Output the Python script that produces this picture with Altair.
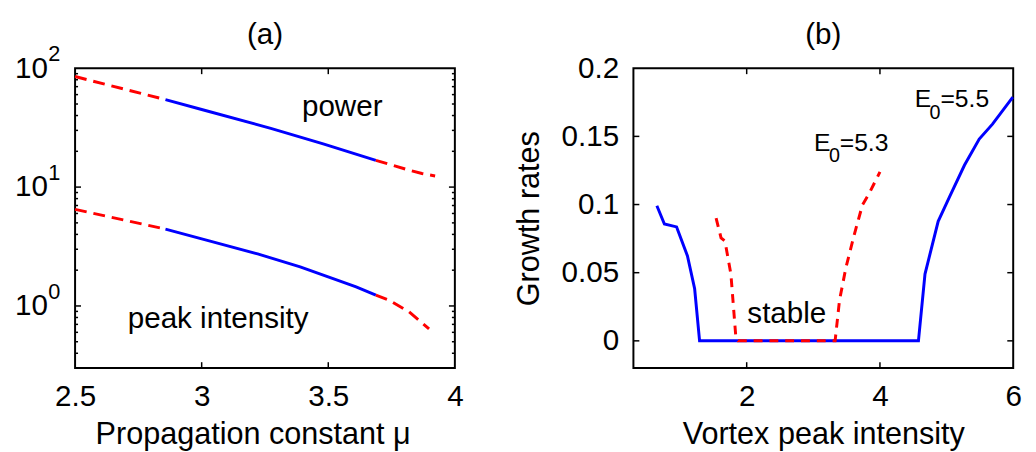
import altair as alt
import pandas as pd

FONT = "Liberation Sans"
BLUE = "#0000ff"
RED = "#ff0000"
W, H = 385, 304

# ---------------- panel (a) data ----------------
pw_red1_mu = [2.5, 2.857]
pw_red1_val = [85.1, 54.4]
pw_blue_mu = [2.857, 3.0, 3.273, 3.48, 3.688]
pw_blue_val = [54.4, 45.0, 31.2, 23.1, 16.8]
pw_red2_mu = [3.688, 3.818, 3.87, 3.922]
pw_red2_val = [16.8, 13.9, 13.0, 12.4]

pk_red1_mu = [2.5, 2.857]
pk_red1_val = [6.5, 4.43]
pk_blue_mu = [2.857, 3.026, 3.221, 3.389, 3.519, 3.61, 3.688]
pk_blue_val = [4.43, 3.55, 2.74, 2.13, 1.70, 1.45, 1.235]
pk_red2_mu = [3.688, 3.74, 3.818, 3.898]
pk_red2_val = [1.235, 1.12, 0.896, 0.64]

a_title = ["(a)"]
a_x_ticks = [2.5, 3, 3.5, 4]
a_x_inner = [3, 3.5]
a_y_ticks = [1, 10, 100]
a_y_exp = ["0", "1", "2"]
a_y_major_inner = [1, 10]
a_y_minor_inner = [0.3, 0.4, 0.5, 0.6, 0.7, 0.8, 0.9,
                   2, 3, 4, 5, 6, 7, 8, 9,
                   20, 30, 40, 50, 60, 70, 80, 90]
a_labels = ["power", "peak intensity"]
a_label_x = [3.396, 2.708]
a_label_y = [39.8, 0.65]

# ---------------- panel (b) data ----------------
b_blue_x = [0.652, 0.765, 0.948, 1.111, 1.219, 1.293, 4.578, 4.676, 4.874,
            5.046, 5.268, 5.49, 5.689, 5.994]
b_blue_y = [0.0991, 0.0857, 0.0836, 0.0623, 0.0382, 0.0, 0.0, 0.049, 0.0877,
            0.1058, 0.1288, 0.148, 0.159, 0.1788]
b_red_x = [1.541, 1.615, 1.674, 1.763, 1.837, 1.87, 3.327, 3.393, 3.49,
           3.615, 3.738, 3.837, 4.0]
b_red_y = [0.090, 0.0756, 0.0732, 0.049, 0.003, 0.0, 0.0, 0.0297, 0.0539,
           0.078, 0.0998, 0.108, 0.1239]

b_title = ["(b)"]
b_x_ticks = [2, 4, 6]
b_x_inner = [2, 4]
b_y_ticks = [0, 0.05, 0.1, 0.15, 0.2]
b_y_inner = [0, 0.05, 0.1, 0.15]
b_e_labels = ["=5.5", "=5.3"]
b_e_x = [4.523, 3.012]
b_e_y = [0.1715, 0.1396]
b_stable_x = [2.01]
b_stable_y = [0.0128]


def seg_df(parts):
    rows = []
    for sid, xs, ys in parts:
        for x, y in zip(xs, ys):
            rows.append({"x": x, "y": y, "seg": sid})
    return pd.DataFrame(rows)


XA = alt.X("x:Q", scale=alt.Scale(domain=[2.5, 4], nice=False, zero=False),
           axis=alt.Axis(values=a_x_ticks, format="~g", title="Propagation constant μ",
                         labelPadding=14, titlePadding=8, titleX=180))
YA = alt.Y("y:Q", scale=alt.Scale(type="log", domain=[0.3, 100], nice=False),
           axis=alt.Axis(values=a_y_ticks, labelExpr="'10'", title=None, labelPadding=28))

XB = alt.X("x:Q", scale=alt.Scale(domain=[0.3, 6], nice=False, zero=False),
           axis=alt.Axis(values=b_x_ticks, format="~g", title="Vortex peak intensity",
                         labelPadding=14, titlePadding=8))
YB = alt.Y("y:Q", scale=alt.Scale(domain=[-0.02, 0.2], nice=False, zero=False),
           axis=alt.Axis(values=b_y_ticks, format="~g", title="Growth rates",
                         labelPadding=15, titlePadding=16))


def inner_ticks(vals, axis, length, XE, YE):
    df = pd.DataFrame({axis: vals})
    base = alt.Chart(df).mark_rule(color="black", strokeWidth=1.5)
    if axis == "y":
        left = base.encode(y=YE, x=alt.value(0), x2=alt.value(length))
        right = base.encode(y=YE, x=alt.value(W - length), x2=alt.value(W))
    else:
        left = base.encode(x=XE, y=alt.value(H - length), y2=alt.value(H))
        right = base.encode(x=XE, y=alt.value(0), y2=alt.value(length))
    return [left, right]


def panel_title(t):
    return alt.Chart(pd.DataFrame({"t": t})).mark_text(
        align="center", baseline="alphabetic", fontSize=30, font=FONT, color="black"
    ).encode(x=alt.value(W / 2), y=alt.value(-25), text="t:N")


# ---------------- panel (a) ----------------
blue_a = seg_df([("pw", pw_blue_mu, pw_blue_val), ("pk", pk_blue_mu, pk_blue_val)])
red_a = seg_df([("pw1", pw_red1_mu, pw_red1_val), ("pw2", pw_red2_mu, pw_red2_val),
                ("pk1", pk_red1_mu, pk_red1_val), ("pk2", pk_red2_mu, pk_red2_val)])

la_blue = alt.Chart(blue_a).mark_line(color=BLUE, strokeWidth=3).encode(
    x=XA, y=YA, detail="seg:N")
la_red = alt.Chart(red_a).mark_line(color=RED, strokeWidth=3, strokeDash=[12, 7]).encode(
    x=XA, y=YA, detail="seg:N")

exp_df = pd.DataFrame({"y": a_y_ticks, "e": a_y_exp})
la_exp = alt.Chart(exp_df).mark_text(align="right", baseline="middle", fontSize=22,
                                     font=FONT, dy=-14, color="black").encode(
    y=YA, x=alt.value(-15), text="e:N")

ann_a = pd.DataFrame({"x": a_label_x, "y": a_label_y, "t": a_labels})
la_ann = alt.Chart(ann_a).mark_text(align="left", baseline="alphabetic", fontSize=30,
                                    font=FONT, color="black").encode(
    x=XA, y=YA, text="t:N")

ticks_a = (inner_ticks(a_y_major_inner, "y", 6, XA, YA)
           + inner_ticks(a_y_minor_inner, "y", 3, XA, YA)
           + inner_ticks(a_x_inner, "x", 6, XA, YA))

panel_a = alt.layer(la_blue, la_red, la_exp, la_ann, panel_title(a_title),
                    *ticks_a).properties(width=W, height=H)

# ---------------- panel (b) ----------------
blue_b = pd.DataFrame({"x": b_blue_x, "y": b_blue_y})
red_b = pd.DataFrame({"x": b_red_x, "y": b_red_y})

lb_blue = alt.Chart(blue_b).mark_line(color=BLUE, strokeWidth=3).encode(x=XB, y=YB)
lb_red = alt.Chart(red_b).mark_line(color=RED, strokeWidth=3, strokeDash=[9, 7]).encode(
    x=XB, y=YB)

e_df = pd.DataFrame({"x": b_e_x, "y": b_e_y, "t": b_e_labels,
                     "e": ["E", "E"], "s": ["0", "0"]})
lb_E = alt.Chart(e_df).mark_text(align="left", baseline="alphabetic", fontSize=25,
                                 font=FONT, color="black").encode(text="e:N", x=XB, y=YB)
lb_sub = alt.Chart(e_df).mark_text(align="left", baseline="alphabetic", fontSize=20,
                                   font=FONT, color="black", dx=15, dy=12).encode(
    text="s:N", x=XB, y=YB)
lb_rest = alt.Chart(e_df).mark_text(align="left", baseline="alphabetic", fontSize=25,
                                    font=FONT, color="black", dx=26).encode(
    text="t:N", x=XB, y=YB)

st_df = pd.DataFrame({"x": b_stable_x, "y": b_stable_y, "t": ["stable"]})
lb_st = alt.Chart(st_df).mark_text(align="left", baseline="alphabetic", fontSize=30,
                                   font=FONT, color="black").encode(text="t:N", x=XB, y=YB)

ticks_b = inner_ticks(b_y_inner, "y", 6, XB, YB) + inner_ticks(b_x_inner, "x", 6, XB, YB)

panel_b = alt.layer(lb_blue, lb_red, lb_E, lb_sub, lb_rest, lb_st, panel_title(b_title),
                    *ticks_b).properties(width=W, height=H)

chart = alt.hconcat(panel_a, panel_b, spacing=48).properties(
    padding={"left": 5, "top": 8, "right": 5, "bottom": 0},
    background="white",
).configure_view(
    stroke="black", strokeWidth=2
).configure_axis(
    grid=False, domain=False, ticks=False, tickSize=0, labelFlush=False,
    labelFont=FONT, labelFontSize=30, labelColor="black",
    titleFont=FONT, titleFontSize=31, titleFontWeight="normal", titleColor="black",
    labelOverlap=False
)

chart.save("out.html", embed_options={"renderer": "svg", "actions": False})
